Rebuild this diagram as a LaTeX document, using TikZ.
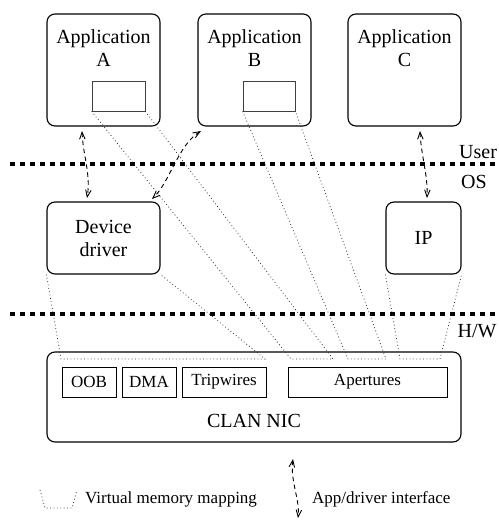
\documentclass[tikz,border=0pt]{standalone}
\usepackage{fontspec}
\setmainfont{Liberation Serif}
\usetikzlibrary{arrows.meta}

\tikzset{
  bigbox/.style={draw, line width=1.1pt, rounded corners=8pt, inner sep=0pt},
  smallbox/.style={draw, line width=0.8pt, inner sep=0pt, minimum height=30pt,
    font=\fontsize{17}{20}\selectfont},
  bufbox/.style={draw=black!75, line width=0.8pt, inner sep=0pt,
    minimum height=30pt},
  boxtext/.style={inner sep=0pt, align=center, font=\fontsize{20}{23}\selectfont},
  vmmap/.style={line width=0.8pt, black!80, dash pattern=on 0.8pt off 2.6pt},
  iface/.style={line width=0.9pt, dash pattern=on 4.5pt off 3.5pt,
    {Straight Barb[length=7pt,width=5.5pt]}-{Straight Barb[length=7pt,width=5.5pt]}},
  boundary/.style={line width=3.2pt, dash pattern=on 5pt off 5pt},
  layertext/.style={inner sep=0pt, anchor=base west, font=\fontsize{20}{23}\selectfont},
  legendtext/.style={inner sep=0pt, anchor=base west, font=\fontsize{17}{20}\selectfont}
}

\begin{document}
\begin{tikzpicture}[x=1pt, y=-1pt]
\useasboundingbox (0,0) rectangle (498,522);

% protection boundaries
\draw[boundary] (10,164) -- (505,164);
\draw[boundary] (10,314) -- (505,314);
\node[layertext] (luser) at (459,158) {User};
\node[layertext] (los) at (461,188) {OS};
\node[layertext] (lhw) at (457.5,337) {H/W};

% applications
\node[bigbox, minimum width=113pt, minimum height=112pt] (appA) at (103.5,70) {};
\node[bigbox, minimum width=113pt, minimum height=112pt] (appB) at (254.5,70) {};
\node[bigbox, minimum width=113pt, minimum height=112pt] (appC) at (404.5,70) {};
\node[boxtext, anchor=north] (tA) at (103.5,29) {Application\\A};
\node[boxtext, anchor=north] (tB) at (254.5,29) {Application\\B};
\node[boxtext, anchor=north] (tC) at (404.5,29) {Application\\C};
\node[bufbox, minimum width=53pt] (bufA) at (118.5,96) {};
\node[bufbox, minimum width=52pt] (bufB) at (269,96) {};

% kernel components
\node[bigbox, boxtext, minimum width=113pt, minimum height=72pt] (drv) at (103.5,238) {Device\\driver};
\node[bigbox, boxtext, minimum width=75pt, minimum height=72pt] (ip) at (423.5,238) {IP};

% the NIC
\node[bigbox, minimum width=414pt, minimum height=90pt] (nic) at (254,397) {};
\node[boxtext] (tnic) at (254,421) {CLAN NIC};
\node[smallbox, minimum width=54pt] (oob) at (89,382) {OOB};
\node[smallbox, minimum width=54pt] (dma) at (149,382) {DMA};
\node[smallbox, minimum width=84pt] (trip) at (224,382) {Tripwires};
\node[smallbox, minimum width=159pt] (apert) at (367.5,382) {Apertures};

% virtual memory mappings onto the NIC
\coordinate (drvL) at (61,359);  \coordinate (drvR) at (265,359);
\coordinate (aL) at (291,359);   \coordinate (aR) at (333,359);
\coordinate (bL) at (348,359);   \coordinate (bR) at (386,359);
\coordinate (ipL) at (400,359);  \coordinate (ipR) at (440,359);
\draw[vmmap] (drv.south west) -- (drvL) -- (drvR) -- (drv.south east);
\draw[vmmap] (bufA.south west) -- (aL) -- (aR) -- (bufA.south east);
\draw[vmmap] (bufB.south west) -- (bL) -- (bR) -- (bufB.south east);
\draw[vmmap] (ip.south west) -- (ipL) -- (ipR) -- (ip.south east);

% application / driver interfaces
\coordinate (ifA1) at (82,131);   \coordinate (ifA2) at (87,198);
\coordinate (ifB1) at (201,131);  \coordinate (ifB2) at (152,199);
\coordinate (ifC1) at (420,131);  \coordinate (ifC2) at (427,198);
\draw[iface] (ifA1) .. controls (83,155) and (91,175) .. (ifA2);
\draw[iface] (ifB1) .. controls (178,145) and (170,182) .. (ifB2);
\draw[iface] (ifC1) .. controls (421,155) and (428,175) .. (ifC2);

% legend
\coordinate (lg1) at (40,490); \coordinate (lg2) at (45,508);
\coordinate (lg3) at (72,508); \coordinate (lg4) at (77,490);
\draw[vmmap] (lg1) -- (lg2) -- (lg3) -- (lg4);
\node[legendtext] (lvm) at (85,503) {Virtual memory mapping};
\coordinate (li1) at (293,459); \coordinate (li2) at (298,518);
\draw[iface] (li1) .. controls (290,480) and (300,500) .. (li2);
\node[legendtext] (lif) at (312,503) {App/driver interface};
\end{tikzpicture}
\end{document}
